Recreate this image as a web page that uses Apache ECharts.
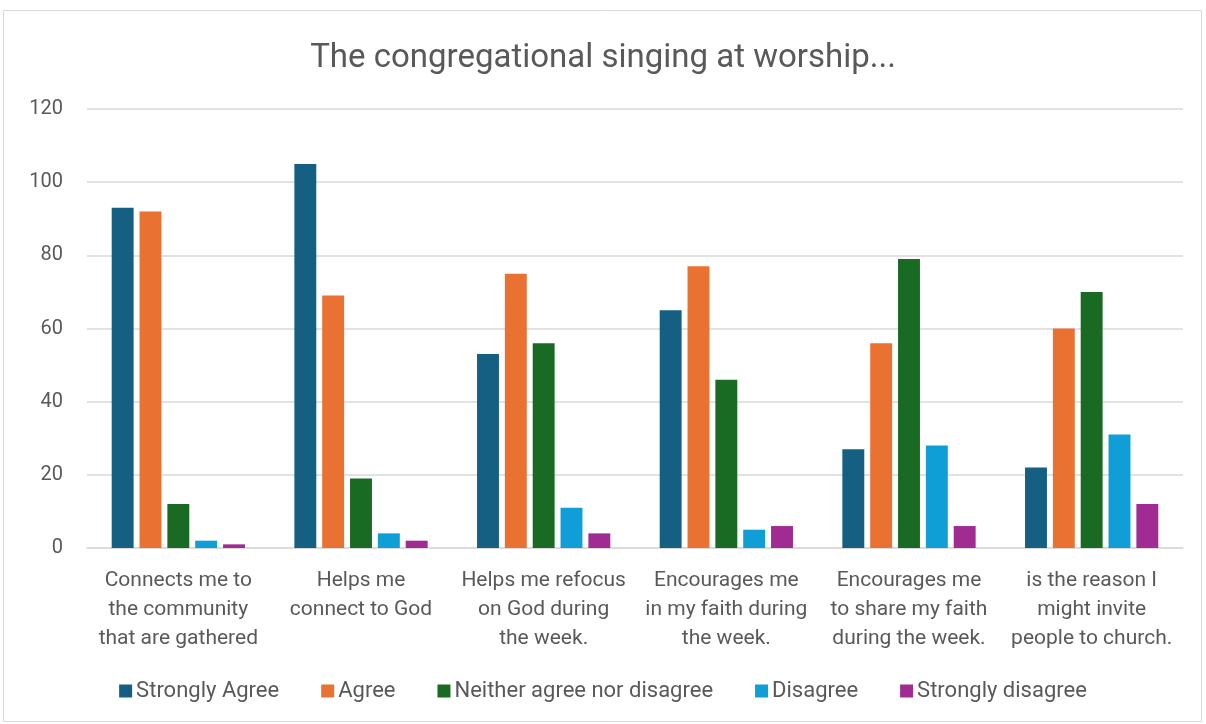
<!DOCTYPE html>
<html>
<head>
<meta charset="utf-8">
<script src="https://cdn.jsdelivr.net/npm/echarts@6/dist/echarts.min.js"></script>
<style>
  html, body { margin: 0; padding: 0; background: #fff; }
  #chart { width: 1206px; height: 724px; }
</style>
</head>
<body>
<div id="chart"></div>
<script>
// Survey statements (x-axis categories)
const categories = [
  'Connects me to\nthe community\nthat are gathered',
  'Helps me\nconnect to God',
  'Helps me refocus\non God during\nthe week.',
  'Encourages me\nin my faith during\nthe week.',
  'Encourages me\nto share my faith\nduring the week.',
  'is the reason I\nmight invite\npeople to church.'
];

// Response counts per answer option
const stronglyAgree   = [93, 105, 53, 65, 27, 22];
const agree           = [92, 69, 75, 77, 56, 60];
const neither         = [12, 19, 56, 46, 79, 70];
const disagree        = [2, 4, 11, 5, 28, 31];
const stronglyDisagree = [1, 2, 4, 6, 6, 12];

const seriesNames = ['Strongly Agree', 'Agree', 'Neither agree nor disagree', 'Disagree', 'Strongly disagree'];
const seriesValues = [stronglyAgree, agree, neither, disagree, stronglyDisagree];
const seriesColors = ['#156082', '#E97132', '#196B24', '#0F9ED5', '#A02B93'];

const FONT = 'Roboto, "Liberation Sans", sans-serif';
const TEXT = '#595959';

const chart = echarts.init(document.getElementById('chart'), null, { renderer: 'canvas' });

chart.setOption({
  backgroundColor: '#ffffff',
  animation: false,
  graphic: [{
    type: 'rect',
    shape: { x: 3.5, y: 10.5, width: 1198, height: 711 },
    style: { fill: 'none', stroke: '#d9d9d9', lineWidth: 1 },
    silent: true
  }],
  title: {
    text: 'The congregational singing at worship...',
    left: 'center',
    top: 37,
    textStyle: { fontFamily: FONT, fontSize: 33, fontWeight: 'normal', color: TEXT }
  },
  legend: {
    bottom: 17,
    left: 'center',
    icon: 'rect',
    itemWidth: 13,
    itemHeight: 13,
    itemGap: 42,
    textStyle: { fontFamily: FONT, fontSize: 22, color: TEXT, padding: [0, 0, 0, -1] },
    data: seriesNames
  },
  grid: { left: 87, right: 23, top: 109, bottom: 176 },
  xAxis: {
    type: 'category',
    data: categories,
    axisLine: { show: true, lineStyle: { color: '#d9d9d9', width: 1.5 } },
    axisTick: { show: false },
    axisLabel: {
      interval: 0,
      margin: 18,
      fontFamily: FONT,
      fontSize: 21,
      lineHeight: 29,
      color: TEXT
    }
  },
  yAxis: {
    type: 'value',
    min: 0,
    max: 120,
    interval: 20,
    axisLine: { show: false },
    axisTick: { show: false },
    splitLine: { lineStyle: { color: '#d9d9d9', width: 1.5 } },
    axisLabel: { fontFamily: FONT, fontSize: 20, color: TEXT, margin: 24 }
  },
  series: seriesNames.map((name, i) => ({
    name: name,
    type: 'bar',
    data: seriesValues[i],
    barWidth: '12%',
    barGap: '27%',
    barCategoryGap: '27%',
    itemStyle: { color: seriesColors[i] }
  }))
});
</script>
</body>
</html>
